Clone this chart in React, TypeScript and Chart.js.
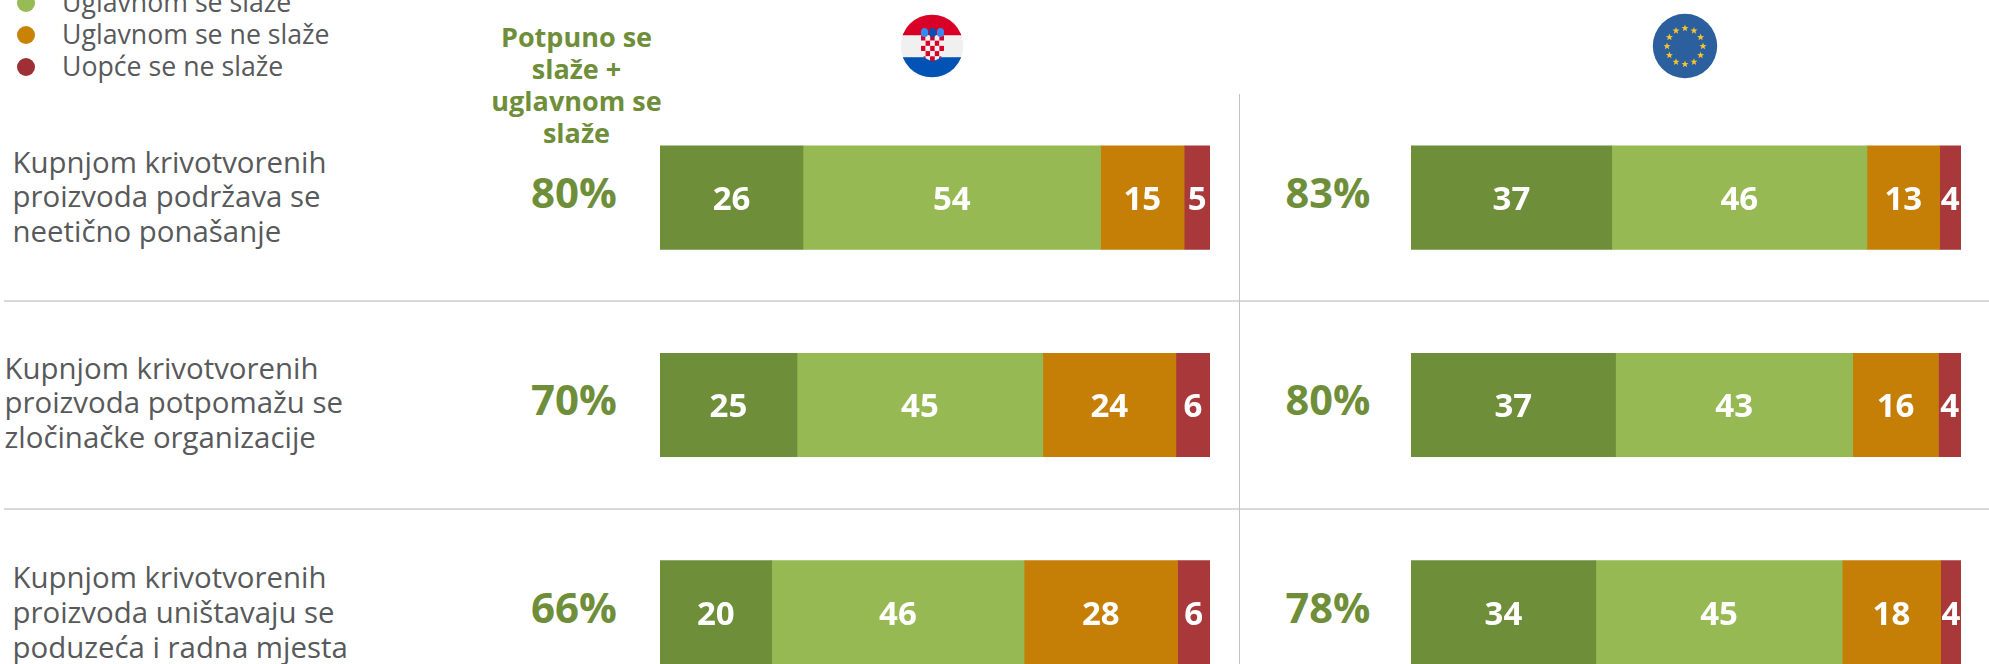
import React, { useEffect, useRef } from "react";
import { Chart, registerables } from "chart.js";

Chart.register(...registerables);

const rowKeys = ["r1", "r2", "r3"];
const seriesNames = ["Potpuno se slaže", "Uglavnom se slaže", "Uglavnom se ne slaže", "Uopće se ne slaže"];
const rowLines = [
  ["Kupnjom krivotvorenih", "proizvoda podržava se", "neetično ponašanje"],
  ["Kupnjom krivotvorenih", "proizvoda potpomažu se", "zločinačke organizacije"],
  ["Kupnjom krivotvorenih", "proizvoda uništavaju se", "poduzeća i radna mjesta"],
];
const headerLines = ["Potpuno se", "slaže +", "uglavnom se", "slaže"];
const totalsHr = ["80%", "70%", "66%"];
const totalsEu = ["83%", "80%", "78%"];

const hrFully = [26, 24.9, 20.3];
const hrMostly = [54.1, 44.7, 45.9];
const hrMostlyNot = [15.2, 24.2, 27.9];
const hrNot = [4.7, 6.2, 5.9];
const hrLabels = [["26", "25", "20"], ["54", "45", "46"], ["15", "24", "28"], ["5", "6", "6"]];

const euFully = [36.5, 37.2, 33.6];
const euMostly = [46.4, 43.1, 44.8];
const euMostlyNot = [13.2, 15.6, 17.9];
const euNot = [3.9, 4.1, 3.7];
const euLabels = [["37", "37", "34"], ["46", "43", "45"], ["13", "16", "18"], ["4", "4", "4"]];

const barColors = ["#6f8e3a", "#97b953", "#c57f06", "#a9383a"];
const legendColors = ["#6f8e3a", "#97bb55", "#c88204", "#9e3035"];
const textGrey = "#58595b";
const green = "#6f8e3a";
const font = "'Open Sans', sans-serif";

function BarPanel({ left, values, labels }: { left: number; values: number[][]; labels: string[][] }) {
  const ref = useRef<HTMLCanvasElement>(null);
  useEffect(() => {
    const valueLabels = {
      id: "valueLabels",
      afterDatasetsDraw(chart: any) {
        const { ctx } = chart;
        ctx.save();
        ctx.fillStyle = "#ffffff";
        ctx.font = `700 33px ${font}`;
        ctx.textAlign = "center";
        ctx.textBaseline = "middle";
        chart.data.datasets.forEach((_: any, di: number) => {
          chart.getDatasetMeta(di).data.forEach((bar: any, i: number) => {
            const c = bar.getCenterPoint();
            ctx.fillText(labels[di][i], c.x, c.y + 3);
          });
        });
        ctx.restore();
      },
    };
    const chart = new Chart(ref.current!, {
      type: "bar",
      data: {
        labels: rowKeys,
        datasets: values.map((v, i) => ({
          label: seriesNames[i],
          data: v,
          backgroundColor: barColors[i],
          barThickness: 103.5,
          borderWidth: 0,
        })),
      },
      options: {
        indexAxis: "y",
        animation: false,
        responsive: false,
        layout: { padding: 0 },
        plugins: { legend: { display: false }, tooltip: { enabled: false } },
        scales: {
          x: { stacked: true, min: 0, max: 100, display: false },
          y: { stacked: true, display: false },
        },
      },
      plugins: [valueLabels],
    } as any);
    return () => chart.destroy();
  }, []);
  return (
    <canvas
      ref={ref}
      width={550}
      height={622}
      style={{ position: "absolute", left, top: 94, width: 550, height: 622 }}
    />
  );
}

function TextLines({ lines, x, y, size, lh, color, weight = 400, center = false }: any) {
  return (
    <div
      style={{
        position: "absolute",
        left: center ? x - 150 : x,
        width: center ? 300 : 420,
        top: y - lh / 2,
        font: `${weight} ${size}px/${lh}px ${font}`,
        color,
        textAlign: center ? "center" : "left",
        whiteSpace: "nowrap",
      }}
    >
      {lines.map((l: string) => (
        <div key={l}>{l}</div>
      ))}
    </div>
  );
}

const starPoints = (cx: number, cy: number, r: number) => {
  const p: string[] = [];
  for (let i = 0; i < 10; i++) {
    const a = -Math.PI / 2 + (i * Math.PI) / 5;
    const d = i % 2 ? r * 0.42 : r;
    p.push(`${cx + d * Math.cos(a)},${cy + d * Math.sin(a)}`);
  }
  return p.join(" ");
};

function FlagHr() {
  const cells = [];
  for (let r = 0; r < 5; r++)
    for (let c = 0; c < 5; c++)
      cells.push(
        <rect key={`${r}-${c}`} x={21 + c * 4.6} y={21.5 + r * 5.2} width={4.6} height={5.2} fill={(r + c) % 2 ? "#f0f0f0" : "#d80027"} />
      );
  return (
    <svg width={64} height={64} style={{ position: "absolute", left: 899.5, top: 13.5 }}>
      <clipPath id="hrc"><circle cx={32} cy={32} r={31.3} /></clipPath>
      <clipPath id="hrs"><path d="M21 14 H44 V36 Q44 44 32.5 47.5 Q21 44 21 36 Z" /></clipPath>
      <g clipPath="url(#hrc)">
        <rect width={64} height={21.5} fill="#d80027" />
        <rect y={21.5} width={64} height={21.7} fill="#f0f0f0" />
        <rect y={43.2} width={64} height={21} fill="#0052b4" />
      </g>
      <g clipPath="url(#hrs)">{cells}</g>
      <rect x={21} y={14} width={7} height={9} rx={3.5} fill="#338af3" />
      <rect x={29} y={14} width={7} height={9} rx={3.5} fill="#0052b4" />
      <rect x={37} y={14} width={7} height={9} rx={3.5} fill="#338af3" />
    </svg>
  );
}

function FlagEu() {
  const stars = [];
  for (let i = 0; i < 12; i++) {
    const a = (i * Math.PI) / 6;
    stars.push(<polygon key={i} points={starPoints(33 + 18 * Math.sin(a), 33.3 - 18 * Math.cos(a), 3.7)} fill="#f5c52e" />);
  }
  return (
    <svg width={66} height={66} style={{ position: "absolute", left: 1651.5, top: 13 }}>
      <circle cx={33} cy={33} r={32.2} fill="#2c5f9e" />
      {stars}
    </svg>
  );
}

const rowTextX = [12.5, 4.5, 12.5];
const rowTextY = [162, 368, 577.5];
const totalY = [192, 399, 607];

export default function App() {
  useEffect(() => {
    document.body.style.margin = "0";
  }, []);
  return (
    <div style={{ position: "fixed", left: 0, top: 0, width: 1989, height: 664, overflow: "hidden", background: "#fff" }}>
      <div style={{ position: "absolute", left: 4, width: 1985, top: 300, height: 2, background: "#d9d9d9" }} />
      <div style={{ position: "absolute", left: 4, width: 1985, top: 508, height: 2, background: "#d9d9d9" }} />
      <div style={{ position: "absolute", left: 1239, width: 1, top: 94, height: 570, background: "#c4c4c4" }} />

      {seriesNames.slice(1).map((name, i) => (
        <React.Fragment key={name}>
          <div
            style={{
              position: "absolute",
              left: 17,
              top: 3 + i * 32 - 9,
              width: 18,
              height: 18,
              borderRadius: "50%",
              background: legendColors[i + 1],
            }}
          />
          <TextLines lines={[name]} x={62} y={2 + i * 32} size={26.7} lh={36} color={textGrey} />
        </React.Fragment>
      ))}

      <TextLines lines={headerLines} x={576.5} y={37} size={27} lh={32} color={green} weight={700} center />

      {rowLines.map((lines, i) => (
        <TextLines key={i} lines={lines} x={rowTextX[i]} y={rowTextY[i]} size={29.4} lh={34.7} color={textGrey} />
      ))}

      {totalsHr.map((t, i) => (
        <TextLines key={t} lines={[t]} x={574} y={totalY[i]} size={42} lh={50} color={green} weight={700} center />
      ))}
      {totalsEu.map((t, i) => (
        <TextLines key={t} lines={[t]} x={1328} y={totalY[i]} size={41.5} lh={50} color={green} weight={700} center />
      ))}

      <BarPanel left={660} values={[hrFully, hrMostly, hrMostlyNot, hrNot]} labels={hrLabels} />
      <BarPanel left={1411} values={[euFully, euMostly, euMostlyNot, euNot]} labels={euLabels} />

      <FlagHr />
      <FlagEu />
    </div>
  );
}
